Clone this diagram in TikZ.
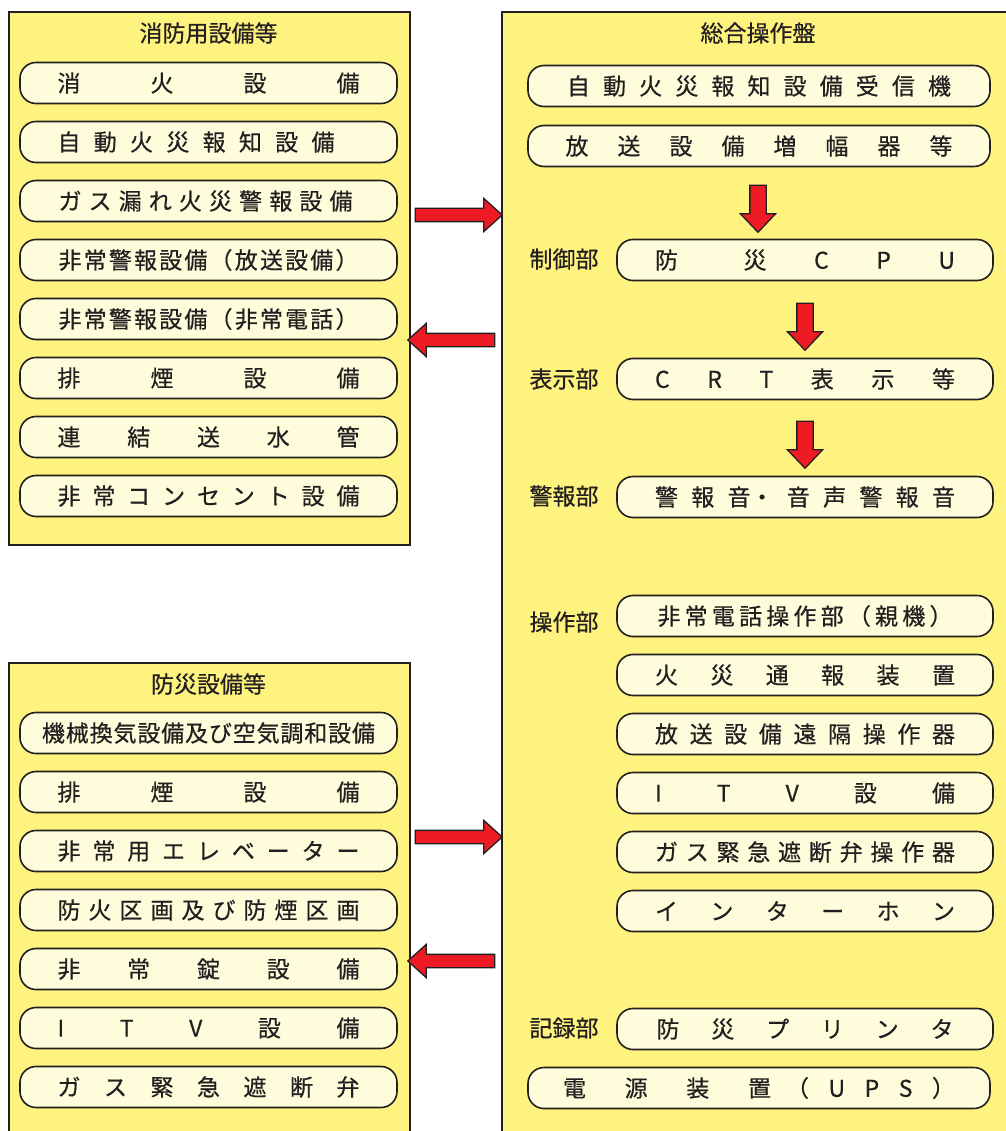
\documentclass[tikz,border=0pt]{standalone}
\usepackage{fontspec}
\newfontfamily\jpfont[FakeBold=0.5]{Noto Sans CJK JP}
\usetikzlibrary{shapes.arrows}

\definecolor{panelyellow}{HTML}{FFF380}
\definecolor{pillcream}{HTML}{FFFCDC}
\definecolor{arrowred}{HTML}{ED1C24}
\definecolor{inkgray}{HTML}{231F20}

\makeatletter
\newcommand\spreadtext[2]{\makebox[#1][l]{\let\spread@sep\relax\@tfor\spread@c:=#2\do{\spread@sep\spread@c\def\spread@sep{\hfill}}}}
\makeatother

\begin{document}
\begin{tikzpicture}[x=1pt,y=-1pt,
		font=\jpfont\fontsize{23}{23}\selectfont, text=inkgray,
		panel/.style={draw=inkgray, fill=panelyellow, line width=1.6pt, anchor=north west, inner sep=0pt},
		pill/.style={draw=inkgray, fill=pillcream, line width=1.6pt, rounded corners=16pt, minimum height=41pt, inner sep=0pt},
		leftpill/.style={pill, minimum width=377pt},
		rightpill/.style={pill, minimum width=376pt},
		widepill/.style={pill, minimum width=462pt},
		blockarrow/.style={single arrow, draw=inkgray, fill=arrowred, line width=1.3pt, inner sep=6pt, single arrow head extend=10pt, single arrow tip angle=84, minimum height=87pt},
		downarrow/.style={blockarrow, inner sep=7.5pt, single arrow head extend=9.5pt, single arrow tip angle=87, minimum height=47pt, rotate=-90}]
		\useasboundingbox (0,0) rectangle (1005,1131);
		
		\node[panel, minimum width=401pt, minimum height=533pt] (fireequip) at (8,11) {};
		\node (fireequiptitle) at (208.5,33) {消防用設備等};
		\node[leftpill] (fe1) at (208.5,83) {\spreadtext{302pt}{消火設備}};
		\node[leftpill] (fe2) at (208.5,142) {\makebox[302pt][l]{\spreadtext{277pt}{自動火災報知設備}}};
		\node[leftpill] (fe3) at (208.5,201) {\makebox[300pt][l]{\spreadtext{294pt}{ガス漏れ火災警報設備}}};
		\node[leftpill] (fe4) at (208.5,260) {\spreadtext{300pt}{非常警報設備（放送設備）}};
		\node[leftpill] (fe5) at (208.5,319) {\spreadtext{300pt}{非常警報設備（非常電話）}};
		\node[leftpill] (fe6) at (208.5,378) {\spreadtext{302pt}{排煙設備}};
		\node[leftpill] (fe7) at (208.5,437) {\spreadtext{302pt}{連結送水管}};
		\node[leftpill] (fe8) at (208.5,496) {\spreadtext{302pt}{非常コンセント設備}};
		
		\node[panel, minimum width=401pt, minimum height=500pt] (disequip) at (8,662) {};
		\node (disequiptitle) at (208.5,684) {防災設備等};
		\node[leftpill] (de1) at (208.5,733) {\spreadtext{333pt}{機械換気設備及び空気調和設備}};
		\node[leftpill] (de2) at (208.5,792) {\spreadtext{302pt}{排煙設備}};
		\node[leftpill] (de3) at (208.5,851) {\spreadtext{302pt}{非常用エレベーター}};
		\node[leftpill] (de4) at (208.5,910) {\spreadtext{302pt}{防火区画及び防煙区画}};
		\node[leftpill] (de5) at (208.5,969) {\spreadtext{302pt}{非常錠設備}};
		\node[leftpill] (de6) at (208.5,1028) {\spreadtext{302pt}{ITV設備}};
		\node[leftpill] (de7) at (208.5,1087) {\spreadtext{302pt}{ガス緊急遮断弁}};
		
		\node[panel, minimum width=520pt, minimum height=1150pt] (panel) at (501,11) {};
		\node (paneltitle) at (758,33) {総合操作盤};
		\node[widepill] (receiver) at (759,86) {\spreadtext{384pt}{自動火災報知設備受信機}};
		\node[widepill] (amplifier) at (759,146) {\spreadtext{387pt}{放送設備増幅器等}};
		\node (control) at (564,259) {制御部};
		\node[rightpill] (cpu) at (805,260) {\spreadtext{300pt}{防{\hspace{18pt}災}CPU}};
		\node (display) at (564,379) {表示部};
		\node[rightpill] (crt) at (805,379) {\spreadtext{300pt}{CRT表示等}};
		\node (alarm) at (564,496) {警報部};
		\node[rightpill] (sound) at (805,497) {\spreadtext{300pt}{警報{音・}音声警報音}};
		\node (operation) at (564,622) {操作部};
		\node[rightpill] (op1) at (805,616) {\spreadtext{295pt}{非常電話操作部（親機）}};
		\node[rightpill] (op2) at (805,675) {\spreadtext{300pt}{火災通報装置}};
		\node[rightpill] (op3) at (805,734) {\spreadtext{300pt}{放送設備遠隔操作器}};
		\node[rightpill] (op4) at (805,793) {\spreadtext{300pt}{ITV設備}};
		\node[rightpill] (op5) at (805,852) {\spreadtext{300pt}{ガス緊急遮断弁操作器}};
		\node[rightpill] (op6) at (805,911) {\spreadtext{300pt}{インターホン}};
		\node (record) at (564,1028) {記録部};
		\node[rightpill] (printer) at (805,1029) {\spreadtext{297pt}{防災プリンタ}};
		\node[widepill] (ups) at (759,1088) {\spreadtext{208pt}{電源装置}\hspace{15pt}\spreadtext{169pt}{（UPS）}};
		
		\node[blockarrow] (fetopanel) at (455,215) {};
		\node[blockarrow, rotate=180] (paneltofe) at (455,340) {};
		\node[blockarrow] (detopanel) at (455,837) {};
		\node[blockarrow, rotate=180] (paneltode) at (455,961) {};
		\node[downarrow] (down1) at (758,204.5) {};
		\node[downarrow] (down2) at (805,322.5) {};
		\node[downarrow] (down3) at (805,440.5) {};
	\end{tikzpicture}
\end{document}
